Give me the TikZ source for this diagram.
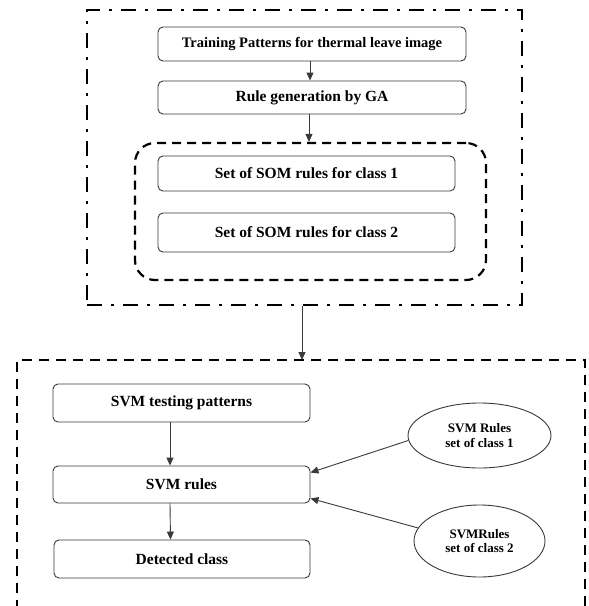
\documentclass[tikz,border=0pt]{standalone}
\usepackage{fontspec}
\setmainfont{Liberation Serif}
\usetikzlibrary{shapes.geometric,arrows.meta}
\definecolor{edge}{HTML}{3A3A3A}
\tikzset{
  box/.style={draw=edge, line width=0.9pt, rounded corners=5pt, inner sep=0pt,
    font=\fontsize{15.5}{17}\selectfont\bfseries},
  oval/.style={draw=edge, line width=0.9pt, ellipse, inner sep=0pt, align=center,
    font=\fontsize{13}{14.5}\selectfont\bfseries},
  arr/.style={draw=edge, line width=0.9pt, -{Triangle[length=8pt,width=7pt]}},
  outerframe/.style={draw=black, line width=2.8pt, dash pattern=on 15pt off 9pt on 3pt off 9pt, inner sep=0pt},
  innerframe/.style={draw=black, line width=2.2pt, dash pattern=on 9pt off 6pt, rounded corners=20pt, inner sep=0pt},
  lowframe/.style={draw=black, line width=2.5pt, dash pattern=on 10pt off 7pt}
}
\begin{document}
\begin{tikzpicture}[x=1pt,y=-1pt]
\useasboundingbox[fill=white] (0,0) rectangle (589,606);
% top group
\node[outerframe, minimum width=435pt, minimum height=295pt] (outer) at (304.5,157.5) {};
\node[box, minimum width=308pt, minimum height=34pt, font=\fontsize{14.5}{16}\selectfont\bfseries] (t1) at (312,44) {Training Patterns for thermal leave image};
\node[box, minimum width=308pt, minimum height=33pt] (t2) at (312,97.5) {Rule generation by GA};
\node[innerframe, minimum width=351pt, minimum height=137pt] (grp) at (310.5,211.5) {};
\node[box, minimum width=297pt, minimum height=35pt] (s1) at (306.5,173.5) {Set of SOM rules for class 1};
\node[box, minimum width=297pt, minimum height=39pt] (s2) at (306.5,232.5) {Set of SOM rules for class 2};
\draw[arr] ([xshift=-2pt]t1.south) -- ([xshift=-2pt]t2.north);
\draw[arr] ([xshift=-3pt]t2.south) -- ([xshift=-3pt]t2.south |- grp.north);
% lower group
\draw[lowframe] (17,610) -- (17,360) -- (585,360) -- (585,610);
\coordinate (lowtop) at (302,360);
\draw[arr] (outer.south -| lowtop) -- (lowtop);
\node[box, minimum width=257pt, minimum height=38pt] (p1) at (181.5,403) {SVM testing patterns};
\node[box, minimum width=257pt, minimum height=37pt] (p2) at (181.5,484.5) {SVM rules};
\node[box, minimum width=256pt, minimum height=38pt] (p3) at (182,559) {Detected class};
\node[oval, minimum width=143pt, minimum height=65pt] (e1) at (479.5,435.5) {SVM Rules\\set of class 1};
\node[oval, minimum width=131pt, minimum height=72pt] (e2) at (479.5,541) {SVMRules\\set of class 2};
\draw[arr] ([xshift=-11.5pt]p1.south) -- ([xshift=-11.5pt]p2.north);
\draw[arr] ([xshift=-11.5pt]p2.south) -- ([xshift=-11.5pt]p3.north);
\draw[arr] (e1.184) -- ([yshift=-7pt]p2.north east);
\draw[arr] (e2.168) -- ([yshift=5pt]p2.south east);
\end{tikzpicture}
\end{document}
